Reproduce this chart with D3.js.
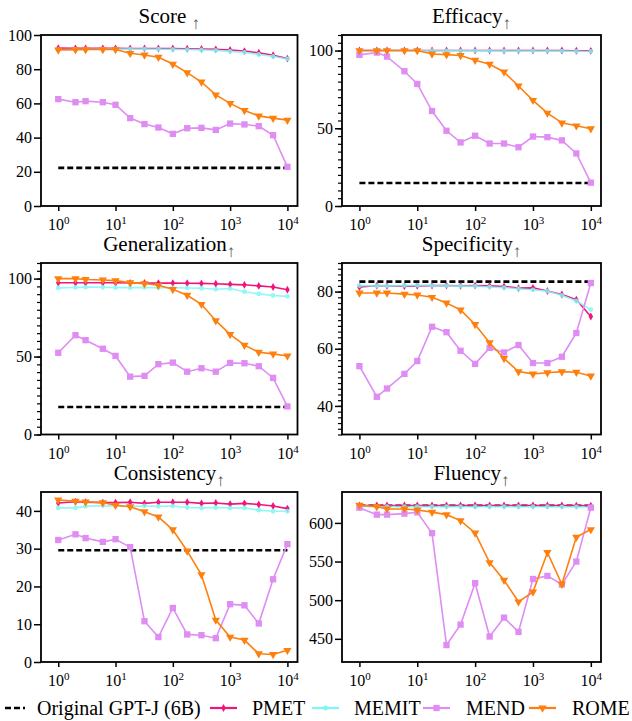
<!DOCTYPE html>
<html>
<head>
<meta charset="utf-8">
<script src="https://cdn.jsdelivr.net/npm/d3@7"></script>
<style>
  body { margin: 0; background: #fff; }
  svg { display: block; }
  svg text { font-family: "Liberation Serif", "Times New Roman", serif; }
</style>
</head>
<body>
<svg id="chart" width="632" height="721"></svg>
<script>
// edit steps on the x axis (log scale)
const steps = [1, 2, 3, 6, 10, 18, 32, 56, 100, 178, 316, 562, 1000, 1778, 3162, 5623, 10000];

const methods = ["PMET", "MEMIT", "MEND", "ROME"];
const methodColors = ["#f0157a", "#7ff6f6", "#df8cf3", "#ff7f0e"];

const panelTitles = ["Score", "Efficacy", "Generalization", "Specificity", "Consistency", "Fluency"];
// original GPT-J (6B) reference level per panel
const baselineValues = [22.3, 14.8, 17.6, 83.5, 29.6, 622.3];

// Score
const scorePMET  = [92.3, 92.2, 92.2, 92.2, 92.2, 92.1, 92.1, 92.1, 92.1, 92.0, 91.8, 91.6, 91.2, 90.6, 89.6, 88.2, 86.2];
const scoreMEMIT = [91.5, 91.6, 91.7, 91.8, 91.8, 91.8, 91.8, 91.7, 91.6, 91.5, 91.3, 91.0, 90.4, 89.8, 88.6, 87.5, 86.0];
const scoreMEND  = [62.5, 60.7, 61.3, 60.7, 59.2, 51.4, 47.9, 45.9, 42.2, 45.5, 45.7, 44.5, 48.2, 47.7, 46.7, 41.4, 22.9];
const scoreROME  = [91.3, 91.4, 91.5, 91.5, 91.5, 89.3, 88.3, 87.0, 83.0, 78.0, 72.5, 65.0, 60.0, 55.9, 52.7, 51.4, 50.2];

// Efficacy
const efficacyPMET  = [100, 100, 100, 100, 100, 100, 100, 100, 100, 100, 100, 100, 100, 100, 100, 99.9, 99.8];
const efficacyMEMIT = [100, 100, 100, 100, 100, 99.9, 99.8, 99.8, 99.8, 99.8, 99.7, 99.7, 99.7, 99.6, 99.6, 99.5, 99.4];
const efficacyMEND  = [97.2, 98.7, 96.1, 86.7, 78.5, 61.1, 48.4, 40.9, 45.2, 40.2, 40.2, 37.8, 44.7, 44.3, 42.2, 33.8, 15.0];
const efficacyROME  = [100, 100, 100, 100, 100, 97.8, 97.4, 96.8, 93.8, 91.2, 86.2, 77.2, 68.0, 59.8, 53.5, 51.6, 49.7];

// Generalization
const generalPMET  = [97.3, 97.3, 97.3, 97.3, 97.3, 97.2, 97.2, 97.1, 97.1, 97.0, 96.9, 96.7, 96.3, 96.0, 95.3, 94.6, 92.8];
const generalMEMIT = [94.0, 94.3, 94.5, 94.4, 94.2, 94.2, 94.3, 94.2, 94.1, 94.0, 93.8, 93.2, 93.6, 91.6, 90.2, 89.2, 88.6];
const generalMEND  = [52.4, 63.7, 60.5, 55.0, 50.4, 37.1, 37.6, 45.1, 46.1, 40.3, 42.5, 40.3, 45.9, 45.7, 43.8, 36.3, 18.0];
const generalROME  = [100, 100, 99.4, 99.1, 98.7, 97.4, 96.8, 95.7, 93.1, 89.3, 83.5, 73.0, 64.2, 57.3, 52.8, 51.7, 50.4];

// Specificity
const specPMET  = [81.6, 82.1, 82.0, 81.9, 82.0, 82.1, 82.1, 82.0, 82.1, 82.0, 81.8, 81.2, 81.3, 80.2, 79.0, 77.2, 71.3];
const specMEMIT = [82.1, 82.0, 82.0, 82.1, 82.2, 82.1, 82.0, 81.9, 81.9, 81.6, 81.4, 81.0, 80.6, 80.2, 78.7, 76.7, 73.7];
const specMEND  = [53.9, 43.2, 46.1, 51.2, 55.7, 67.7, 65.8, 59.3, 54.7, 60.3, 58.7, 61.3, 55.0, 55.0, 57.2, 65.5, 83.0];
const specROME  = [79.5, 79.5, 79.5, 79.1, 78.8, 78.0, 76.0, 73.6, 68.5, 62.1, 56.6, 52.0, 51.2, 51.6, 52.0, 51.8, 50.5];

// Consistency
const consPMET  = [42.1, 42.4, 42.3, 42.2, 42.2, 42.3, 42.0, 42.3, 42.3, 42.3, 42.0, 42.1, 41.8, 42.0, 41.7, 41.3, 40.6];
const consMEMIT = [40.8, 40.8, 41.2, 41.4, 41.3, 41.2, 41.3, 41.2, 41.3, 40.9, 40.8, 40.9, 40.8, 40.8, 40.2, 39.9, 39.9];
const consMEND  = [32.3, 33.8, 32.8, 31.8, 32.5, 30.4, 10.8, 6.6, 14.3, 7.3, 7.1, 6.3, 15.3, 15.0, 10.2, 21.9, 31.2];
const consROME  = [42.9, 42.6, 42.4, 42.2, 41.5, 41.1, 39.8, 38.4, 35.0, 29.4, 23.1, 11.1, 6.6, 5.8, 2.2, 2.0, 3.1];

// Fluency
const fluPMET  = [622.5, 622.6, 622.6, 622.5, 622.6, 622.5, 622.6, 622.5, 622.6, 622.5, 622.6, 622.5, 622.6, 622.5, 622.5, 622.4, 622.2];
const fluMEMIT = [621.2, 621.0, 621.1, 621.0, 621.1, 621.0, 621.1, 621.0, 621.0, 621.0, 621.1, 621.0, 620.9, 621.0, 620.8, 620.8, 620.6];
const fluMEND  = [619.7, 610.7, 610.7, 612.0, 613.7, 586.7, 441.9, 468.4, 522.0, 453.0, 477.4, 459.0, 527.4, 531.4, 520.3, 550.0, 619.7];
const fluROME  = [623.0, 621.0, 618.0, 618.0, 616.7, 614.0, 610.7, 603.0, 587.0, 548.7, 525.8, 497.9, 510.7, 561.7, 520.6, 581.6, 591.4];

const panelSeries = [
  [scorePMET, scoreMEMIT, scoreMEND, scoreROME],
  [efficacyPMET, efficacyMEMIT, efficacyMEND, efficacyROME],
  [generalPMET, generalMEMIT, generalMEND, generalROME],
  [specPMET, specMEMIT, specMEND, specROME],
  [consPMET, consMEMIT, consMEND, consROME],
  [fluPMET, fluMEMIT, fluMEND, fluROME]
];

const yDomains = [[0, 100], [0, 110], [0, 110], [30, 90], [0, 45], [420, 640]];
const yTickValues = [
  [0, 20, 40, 60, 80, 100],
  [0, 50, 100],
  [0, 50, 100],
  [40, 60, 80],
  [0, 10, 20, 30, 40],
  [450, 500, 550, 600]
];
const yMinorStep = [null, 5, 5, 2, null, null];
const xTickValues = [1, 10, 100, 1000, 10000];

// panel boxes (left, top, right, bottom)
const colX = [[41, 297.5], [342, 601]];
const rowY = [[35, 206], [263, 434.5], [492, 662]];

const svg = d3.select("#chart");
const serif = '"Liberation Serif", "Times New Roman", serif';

const symbolFor = [
  d3.symbol().type(d3.symbolDiamond).size(18),
  d3.symbol().type(d3.symbolCircle).size(18),
  d3.symbol().type(d3.symbolSquare).size(40),
  d3.symbol().type(d3.symbolTriangle).size(30)
];

panelTitles.forEach((title, p) => {
  const [x0, x1] = colX[p % 2];
  const [y0, y1] = rowY[Math.floor(p / 2)];

  const x = d3.scaleLog().domain([0.5, 15000]).range([x0, x1]);
  const y = d3.scaleLinear().domain(yDomains[p]).range([y1, y0]);

  const g = svg.append("g");

  // title with small arrow
  const t = g.append("text")
    .attr("x", (x0 + x1) / 2)
    .attr("y", y0 - 12)
    .attr("text-anchor", "middle")
    .style("font-size", "21px")
    .text(title + (p === 0 ? " " : ""));
  t.append("tspan")
    .attr("dy", 6)
    .style("font-size", "17px")
    .style("fill", "#555")
    .text("\u2191");

  // baseline dashed line
  g.append("line")
    .attr("x1", x(1)).attr("x2", x(10000))
    .attr("y1", y(baselineValues[p])).attr("y2", y(baselineValues[p]))
    .attr("stroke", "#000")
    .attr("stroke-width", 2.6)
    .attr("stroke-dasharray", "6,3");

  const line = d3.line().x((d, i) => x(steps[i])).y(d => y(d));

  panelSeries[p].forEach((vals, m) => {
    const sg = g.append("g").attr("opacity", m === 1 ? 0.85 : 1);
    sg.append("path")
      .attr("d", line(vals))
      .attr("fill", "none")
      .attr("stroke", methodColors[m])
      .attr("stroke-width", 1.6);
    sg.selectAll("path.mk")
      .data(vals)
      .join("path")
      .attr("class", "mk")
      .attr("d", symbolFor[m])
      .attr("transform", (d, i) => `translate(${x(steps[i])},${y(d)})` + (m === 3 ? " rotate(180)" : ""))
      .attr("fill", methodColors[m]);
  });

  // minor y ticks
  if (yMinorStep[p]) {
    const [lo, hi] = yDomains[p];
    const minors = d3.range(lo, hi + 0.001, yMinorStep[p]);
    g.append("g")
      .attr("transform", `translate(${x0},0)`)
      .call(d3.axisLeft(y).tickValues(minors).tickSize(4).tickFormat(""))
      .call(a => a.select(".domain").remove())
      .selectAll("line").attr("stroke-width", 1.2);
  }

  // y axis
  const ya = g.append("g")
    .attr("transform", `translate(${x0},0)`)
    .call(d3.axisLeft(y).tickValues(yTickValues[p]).tickSize(7).tickPadding(2));
  ya.attr("font-family", serif);
  ya.select(".domain").remove();
  ya.selectAll("line").attr("stroke-width", 1.5);
  ya.selectAll("text").style("font-size", "16px").attr("fill", "#000");

  // x axis with 10^n labels
  const xa = g.append("g")
    .attr("transform", `translate(0,${y1})`)
    .call(d3.axisBottom(x).tickValues(xTickValues).tickSize(5).tickPadding(3).tickFormat(""));
  xa.attr("font-family", serif);
  xa.select(".domain").remove();
  xa.selectAll("line").attr("stroke-width", 1.5);
  xa.selectAll(".tick text")
    .attr("dy", "1em")
    .style("font-size", "16px")
    .attr("fill", "#000")
    .each(function(d) {
      const el = d3.select(this);
      el.append("tspan").text("10");
      el.append("tspan")
        .attr("dy", -6)
        .style("font-size", "11px")
        .text(Math.round(Math.log10(d)));
    });

  // frame
  g.append("rect")
    .attr("x", x0).attr("y", y0)
    .attr("width", x1 - x0).attr("height", y1 - y0)
    .attr("fill", "none")
    .attr("stroke", "#000")
    .attr("stroke-width", 1.8);
});

// legend
const legendY = 710;
const leg = svg.append("g").style("font-size", "20px");
leg.append("line")
  .attr("x1", 5).attr("x2", 25).attr("y1", legendY - 2).attr("y2", legendY - 2)
  .attr("stroke", "#000").attr("stroke-width", 2.6).attr("stroke-dasharray", "6,3");
leg.append("text").attr("x", 37).attr("y", legendY + 5).text("Original GPT-J (6B)");

const legendLineX = [210, 312, 423, 529];
const legendTextX = [252, 354, 466, 572];
methods.forEach((name, m) => {
  const lx = legendLineX[m];
  leg.append("line")
    .attr("x1", lx).attr("x2", lx + 27).attr("y1", legendY - 2).attr("y2", legendY - 2)
    .attr("stroke", methodColors[m]).attr("stroke-width", 2.2);
  leg.append("path")
    .attr("d", symbolFor[m])
    .attr("transform", `translate(${lx + 13.5},${legendY - 2})` + (m === 3 ? " rotate(180)" : ""))
    .attr("fill", methodColors[m]);
  leg.append("text").attr("x", legendTextX[m]).attr("y", legendY + 5).text(name);
});
</script>
</body>
</html>
